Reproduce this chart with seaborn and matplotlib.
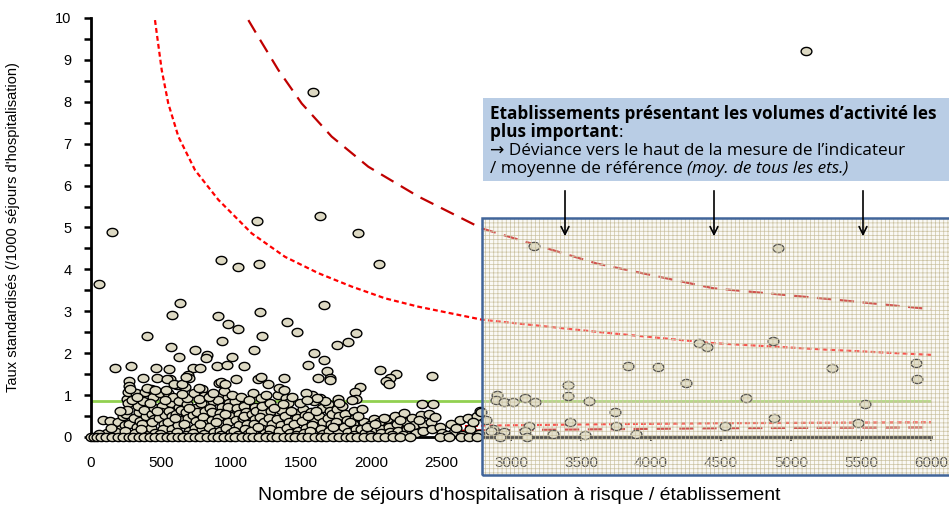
import numpy as np
import pandas as pd
import matplotlib
matplotlib.use("Agg")
import matplotlib.pyplot as plt
import seaborn as sns
from matplotlib.path import Path
from matplotlib.patches import Rectangle, FancyArrowPatch
from matplotlib.ticker import MultipleLocator

# ---------------- data ----------------
mean_rate = 0.85

# low-volume establishments: dense cloud
cloud_x = [86, 136, 112, 160, 60,
           195, 215, 230, 180, 245,
           255, 262, 250, 270, 240, 265, 258,
           318, 305, 330, 345, 315, 338, 352,
           385, 372, 390, 365, 395, 380, 405,
           430, 445, 438, 452, 425, 460, 448, 435,
           495, 510, 502, 488, 520, 515, 492, 525,
           565, 552, 570, 558, 575, 548, 580, 562, 585,
           615, 628, 608, 635, 620, 612, 640, 625,
           668, 685, 675, 692, 662, 698, 680, 688,
           735, 748, 730, 752, 742, 725, 760,
           795, 810, 788, 815, 800, 822, 792, 808,
           858, 870, 850, 875, 862, 845, 880, 866,
           915, 928, 910, 935, 922, 905, 940, 918, 930,
           975, 988, 970, 995, 982, 965, 1000, 978,
           1030, 1045, 1055, 1038, 1060, 1025, 1048,
           1095, 1110, 1088, 1115, 1102, 1120, 1092,
           1155, 1168, 1150, 1175, 1162, 1145, 1180,
           1215, 1228, 1210, 1235, 1222, 1240, 1218,
           1275, 1288, 1270, 1295, 1282, 1265,
           1335, 1348, 1330, 1355, 1342, 1360,
           1395, 1410, 1388, 1415, 1402, 1420,
           1455, 1468, 1450, 1475, 1462,
           1515, 1528, 1510, 1535, 1522,
           1575, 1590, 1570, 1595, 1582, 1565,
           1635, 1648, 1630, 1655, 1642, 1660,
           1695, 1708, 1690, 1715, 1702, 1720,
           1755, 1768, 1750, 1775, 1762,
           1815, 1828, 1810, 1835,
           1875, 1888, 1870, 1895, 1882,
           1935, 1948, 1930, 1955,
           1995, 2010, 2020, 1990,
           2055, 2068, 2075,
           2115, 2128, 2135,
           2175, 2188, 2195,
           2235, 2248, 2255, 2230,
           2295, 2310, 2318,
           2355, 2368, 2375,
           2415, 2428, 2435,
           2495, 2510, 2575, 2590, 2635, 2650, 2695, 2710, 2755, 2770,
           140, 205, 290, 330, 360, 420, 470, 530, 600, 650, 700, 770, 780,
           840, 890, 950, 960, 1010, 1070, 1130, 1190, 1250, 1310, 1370,
           1430, 1490, 1550, 1610, 1670, 1730, 1790, 1850, 1910, 1970, 2030,
           2090, 2150, 2210, 2270, 2340, 2460, 2540, 2610, 2730]
cloud_y = [0.41, 0.37, 0.10, 0.05, 0.06,
           0.35, 0.20, 0.50, 0.12, 0.28,
           0.90, 0.82, 0.55, 0.30, 0.15, 1.08, 0.65,
           1.05, 0.45, 0.25, 0.60, 0.10, 0.75, 0.38,
           1.08, 0.85, 0.50, 0.30, 0.15, 0.65, 0.05,
           1.15, 0.95, 0.55, 0.42, 0.22, 0.10, 0.70, 0.35,
           1.05, 0.75, 0.60, 0.45, 0.30, 0.20, 0.08, 0.52,
           1.38, 1.05, 0.80, 0.62, 0.50, 0.35, 0.18, 0.05, 0.95,
           1.25, 0.72, 0.55, 0.40, 0.28, 0.12, 0.65, 0.85,
           1.20, 0.78, 0.60, 0.45, 0.30, 0.15, 0.05, 0.92,
           1.05, 0.70, 0.52, 0.38, 0.22, 0.10, 0.60,
           1.15, 0.98, 0.80, 0.62, 0.48, 0.32, 0.20, 0.08,
           1.00, 0.85, 0.70, 0.55, 0.40, 0.25, 0.12, 0.60,
           1.30, 1.00, 0.88, 0.72, 0.58, 0.45, 0.30, 0.15, 0.05,
           0.95, 0.80, 0.62, 0.50, 0.35, 0.22, 0.10, 0.72,
           0.85, 0.70, 0.55, 0.40, 0.28, 0.15, 0.05,
           0.75, 0.60, 0.45, 0.32, 0.20, 0.08, 0.50,
           1.05, 0.72, 0.55, 0.42, 0.30, 0.15, 0.62,
           0.92, 0.60, 0.48, 0.35, 0.20, 0.10, 0.75,
           0.80, 0.62, 0.45, 0.30, 0.18, 0.05,
           1.00, 0.55, 0.42, 0.28, 0.15, 0.65,
           0.93, 0.82, 0.50, 0.35, 0.22, 0.10,
           0.58, 0.45, 0.30, 0.15, 0.05,
           0.68, 0.52, 0.38, 0.22, 0.10,
           1.00, 0.85, 0.60, 0.42, 0.28, 0.15,
           0.92, 0.70, 0.50, 0.35, 0.20, 0.08,
           0.78, 0.62, 0.45, 0.30, 0.15, 0.55,
           0.68, 0.50, 0.35, 0.22, 0.10,
           0.55, 0.40, 0.25, 0.12,
           0.62, 0.45, 0.30, 0.18, 0.05,
           0.68, 0.35, 0.20, 0.10,
           0.28, 0.15, 0.42, 0.05,
           0.35, 0.20, 0.10,
           0.42, 0.25, 0.12,
           0.50, 0.30, 0.15,
           0.58, 0.35, 0.20, 0.05,
           0.45, 0.28, 0.10,
           0.52, 0.30, 0.15,
           0.55, 0.35, 0.20,
           0.25, 0.10, 0.32, 0.12, 0.40, 0.05, 0.45, 0.20, 0.50, 0.08,
           0.22, 0.62, 0.88, 0.95, 0.18, 0.80, 0.62, 0.88, 0.45, 1.02, 0.70,
           0.90, 0.30, 0.95, 0.35, 1.10, 0.55, 1.00, 0.95, 0.88, 0.25, 1.00,
           0.70, 0.78, 0.62, 0.80, 0.50, 0.62, 0.85, 0.25, 0.75, 0.35, 0.50,
           0.25, 0.30, 0.45, 0.05, 0.40, 0.25, 0.40, 0.48, 0.05, 0.22, 0.35]

# establishments with a rate of zero
zero_x = [0, 20, 45, 70, 110, 150, 190, 230, 270, 300, 340, 380, 420, 460,
          500, 540, 580, 620, 660, 700, 740, 780, 830, 870, 910, 950, 990,
          1030, 1080, 1120, 1160, 1200, 1250, 1290, 1330, 1380, 1420, 1460,
          1510, 1550, 1600, 1640, 1680, 1730, 1770, 1820, 1860, 1900, 1950,
          2000, 2050, 2100, 2160, 2210, 2280, 2490, 2560, 2640, 2700, 2760]

# higher rates (outliers and upper part of the cloud)
high_x = [57, 148, 926, 1048, 1188, 1202, 1588, 1633, 1905, 2057, 5107,
          633, 576, 400, 169, 288, 571, 631, 740, 829, 819, 907, 981, 1052,
          938, 1205, 1221, 1400, 1164, 1005, 900, 974, 1095, 467, 557, 726,
          781, 374, 471, 541, 691, 698, 269, 274, 281, 402, 455, 536, 595,
          652, 676, 774, 869, 1036, 1193, 1212, 1262, 1376, 1345, 1379, 929,
          957, 1664, 1469, 1893, 1836, 1755, 1591, 1664, 1548, 1688, 1619,
          1709, 1707, 2064, 2179, 2134, 2105, 2126, 2436, 1921, 1888, 1895,
          1862, 1767, 1774, 2367, 1538, 1614, 1433, 1540, 2781, 2445]
high_y = [3.65, 4.89, 4.22, 4.06, 5.16, 4.14, 8.23, 5.27, 4.88, 4.14, 9.21,
          3.20, 2.91, 2.41, 1.65, 1.70, 2.15, 1.92, 2.08, 1.96, 1.89, 2.88,
          2.70, 2.57, 2.30, 2.99, 2.42, 2.75, 2.08, 1.92, 1.69, 1.71, 1.69,
          1.65, 1.63, 1.65, 1.65, 1.40, 1.42, 1.39, 1.47, 1.40, 1.34, 1.21,
          1.15, 1.17, 1.11, 1.12, 1.26, 1.26, 1.43, 1.18, 1.04, 1.39, 1.38,
          1.44, 1.27, 1.42, 1.16, 1.12, 1.32, 1.26, 3.14, 2.50, 2.49, 2.26,
          2.20, 2.00, 1.84, 1.71, 1.58, 1.42, 1.40, 1.36, 1.60, 1.51, 1.42,
          1.34, 1.26, 1.46, 1.20, 1.08, 0.90, 0.88, 0.90, 0.81, 0.78, 1.04,
          0.92, 0.95, 0.88, 0.63, 0.78]

# high-volume establishments
big_x = [3162, 4909, 4345, 4400, 4871, 3838, 4052, 4248, 5295, 5890, 5898,
         3407, 3409, 2902, 2895, 2952, 3014, 3102, 3174, 3557, 4679, 5529,
         3740, 2788, 2821, 3419, 3752, 4876, 5476, 4529, 3126, 3102, 2874,
         2855, 2950, 2921, 3116, 3302, 3531, 3893]
big_y = [4.57, 4.51, 2.24, 2.15, 2.28, 1.69, 1.68, 1.30, 1.65, 1.77, 1.38,
         1.23, 0.99, 1.01, 0.88, 0.84, 0.83, 0.94, 0.84, 0.85, 0.92, 0.79,
         0.60, 0.60, 0.41, 0.35, 0.27, 0.45, 0.34, 0.27, 0.27, 0.15, 0.20,
         0.15, 0.12, 0.0, 0.0, 0.07, 0.05, 0.07]

# control limits (funnel)
up95_x = [457, 505, 552, 624, 743, 910, 1148, 1386, 1624, 1862, 2100, 2338,
          2793, 3612, 4445, 5279, 6000]
up95_y = [9.95, 8.76, 7.96, 7.17, 6.37, 5.66, 4.86, 4.30, 3.91, 3.59, 3.31,
          3.11, 2.80, 2.51, 2.24, 2.08, 1.96]
up998_x = [1124, 1195, 1338, 1505, 1719, 1981, 2338, 2576, 2790, 3612, 4445,
           5279, 6000]
up998_y = [9.95, 9.55, 8.76, 7.96, 7.17, 6.45, 5.74, 5.34, 4.98, 4.14, 3.55,
           3.29, 3.05]
lo95_x = [1700, 2000, 2400, 2800, 3500, 4500, 6000]
lo95_y = [0.18, 0.21, 0.24, 0.27, 0.30, 0.33, 0.35]
lo998_x = [1750, 2100, 2500, 2800, 3500, 4500, 6000]
lo998_y = [0.10, 0.12, 0.14, 0.16, 0.18, 0.21, 0.23]

x_ticks = list(range(0, 6001, 500))
y_ticks = list(range(0, 11))

# ---------------- figure ----------------
sns.set_theme(style="white")
plt.rcParams["font.family"] = ["Liberation Sans", "DejaVu Sans"]
plt.rcParams["hatch.linewidth"] = 0.5

W, H = 949, 505
fig = plt.figure(figsize=(W / 100, H / 100), dpi=100)
fig.patch.set_facecolor("white")
ax = fig.add_axes([91 / W, 1 - 437 / H, 840 / W, 419 / H])
ax.set_facecolor("white")

df = pd.DataFrame({
    "sejours": cloud_x + zero_x + high_x + big_x,
    "taux": cloud_y + [0.0] * len(zero_x) + high_y + big_y,
})

# reference mean and funnel limits
ax.plot([0, 6000], [mean_rate, mean_rate], color="#92D050", lw=2.0, zorder=2)
ax.plot(up95_x, up95_y, color="#FF0000", lw=1.6, ls=(0, (2.2, 1.4)), zorder=2)
ax.plot(lo95_x, lo95_y, color="#FF0000", lw=1.6, ls=(0, (2.2, 1.4)), zorder=2)
ax.plot(up998_x, up998_y, color="#C00000", lw=1.6, ls=(0, (6.5, 3.8)), zorder=2)
ax.plot(lo998_x, lo998_y, color="#C00000", lw=1.6, ls=(0, (6.5, 3.8)), zorder=2)

theta = np.linspace(0, 2 * np.pi, 61)
ellipse = Path(np.column_stack([np.cos(theta), 0.76 * np.sin(theta)]), closed=True)
sns.scatterplot(data=df, x="sejours", y="taux", ax=ax, marker=ellipse, s=60,
                color="#DDD9C3", edgecolor="black", linewidth=1.0,
                zorder=4, clip_on=False, legend=False)

ax.set_xlim(0, 6000)
ax.set_ylim(0, 10)
ax.set_xticks(x_ticks)
ax.set_xticklabels([str(t) for t in x_ticks])
ax.set_yticks(y_ticks)
ax.yaxis.set_minor_locator(MultipleLocator(0.5))
for s in ["top", "right"]:
    ax.spines[s].set_visible(False)
for s in ["left", "bottom"]:
    ax.spines[s].set_color("black")
    ax.spines[s].set_linewidth(2.0)
    ax.spines[s].set_zorder(3)
ax.tick_params(axis="y", which="both", left=True, direction="out", length=5,
               width=1.8, color="black", pad=9, labelsize=10.5, labelcolor="black")
ax.tick_params(axis="x", which="both", bottom=True, direction="out", length=3,
               width=1.5, color="black", pad=11, labelsize=11, labelcolor="black")

ax.set_xlabel("Nombre de séjours d'hospitalisation à risque / établissement",
              fontsize=14, color="black")
ax.xaxis.set_label_coords(0.51, -0.12)
ax.set_ylabel("Taux standardisés (/1000 séjours d'hospitalisation)",
              fontsize=10.5, color="black")
ax.yaxis.set_label_coords(-0.0845, 0.5)

# ---------------- overlay: high-volume zone ----------------
rx0, ry0 = 482 / W, 1 - 475 / H
rw, rh = 1.02 - rx0, (475 - 218) / H
fig.add_artist(Rectangle((rx0, ry0), rw, rh, transform=fig.transFigure,
                         facecolor="#F3F0E4", alpha=0.35, edgecolor="none", zorder=5))
fig.add_artist(Rectangle((rx0, ry0), rw, rh, transform=fig.transFigure,
                         facecolor="none", edgecolor="#CCC3A3", hatch="++++",
                         linewidth=0, zorder=6))
fig.add_artist(Rectangle((rx0, ry0), rw, rh, transform=fig.transFigure,
                         facecolor="none", edgecolor="#41659A", linewidth=1.8, zorder=7))

# ---------------- annotation box ----------------
bx0, by0 = 483 / W, 1 - 181 / H
fig.add_artist(Rectangle((bx0, by0), 1.02 - bx0, (181 - 98) / H,
                         transform=fig.transFigure, facecolor="#B9CDE5",
                         edgecolor="none", zorder=8))
tf = ["Open Sans", "DejaVu Sans"]
fs = 12.3
tx = 490 / W
t1 = fig.text(tx, 1 - 119 / H, "Etablissements présentant les volumes d’activité les",
              fontsize=fs, fontweight="bold", family=tf, va="baseline", zorder=9, color="black")
t2 = fig.text(tx, 1 - 137 / H, "plus important", fontsize=fs, fontweight="bold",
              family=tf, va="baseline", zorder=9, color="black")
fig.add_artist(matplotlib.text.Annotation(":", xy=(1, 0), xycoords=t2, va="bottom",
                                          ha="left", fontsize=fs, family=tf, zorder=9,
                                          color="black"))
fig.text(tx, 1 - 155 / H, "→ Déviance vers le haut de la mesure de l’indicateur",
         fontsize=fs, family=tf, va="baseline", zorder=9, color="black")
t4 = fig.text(tx, 1 - 173 / H, "/ moyenne de référence ", fontsize=fs, family=tf,
              va="baseline", zorder=9, color="black")
fig.add_artist(matplotlib.text.Annotation("(moy. de tous les ets.)", xy=(1, 0), xycoords=t4,
                                          va="bottom", ha="left", fontsize=fs, family=tf,
                                          style="italic", zorder=9, color="black"))

for px in [565, 714, 863]:
    fig.add_artist(FancyArrowPatch((px / W, 1 - 188 / H), (px / W, 1 - 239 / H),
                                   transform=fig.transFigure, arrowstyle="->",
                                   mutation_scale=14, lw=1.2, color="black", zorder=9))

fig.savefig("out.png", dpi=100)
